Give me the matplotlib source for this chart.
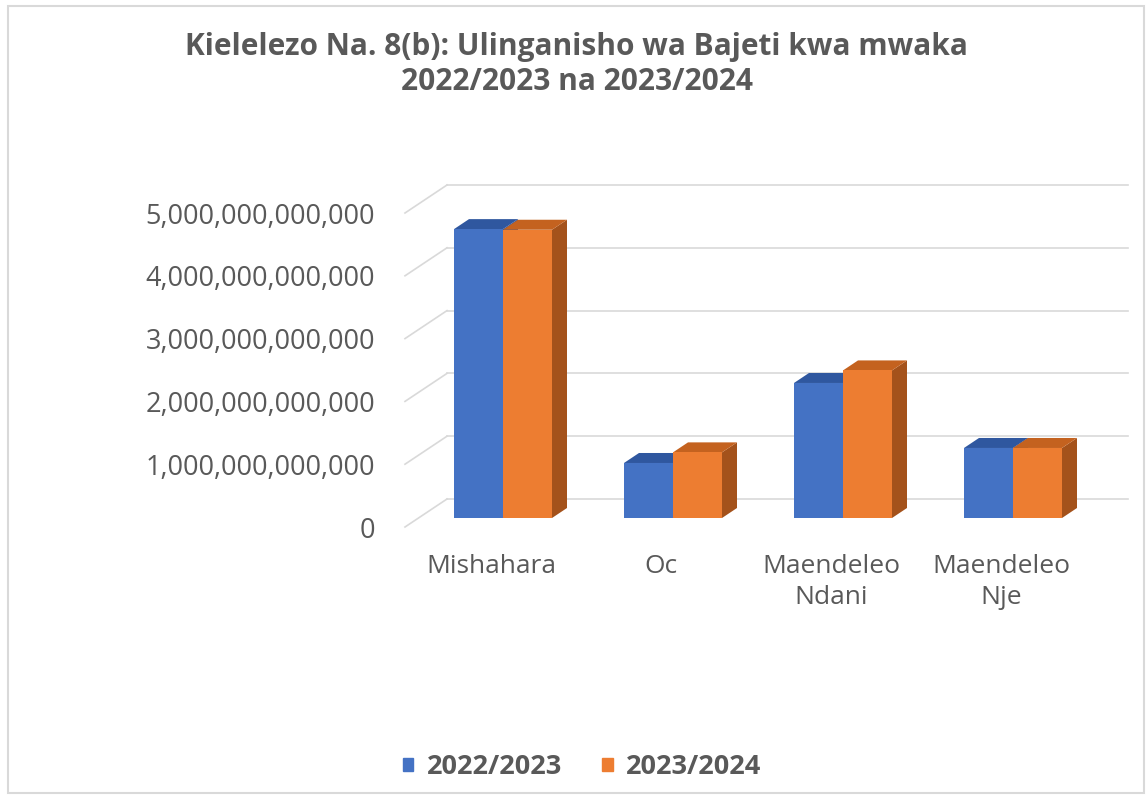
import matplotlib.pyplot as plt
from matplotlib.patches import Polygon, Rectangle, Patch
from matplotlib.ticker import FuncFormatter

categories = ['Mishahara', 'Oc', 'Maendeleo\nNdani', 'Maendeleo\nNje']
series = ['2022/2023', '2023/2024']
bajeti_2022 = [4.60e12, 0.876e12, 2.15e12, 1.115e12]
bajeti_2023 = [4.59e12, 1.045e12, 2.35e12, 1.115e12]
y_ticks = [0, 1e12, 2e12, 3e12, 4e12, 5e12]

front = ['#4472C4', '#ED7D31']
top = ['#2F579F', '#C4621F']
side = ['#2F579F', '#A4521B']
grid_c = '#D9D9D9'
text_c = '#595959'

plt.rcParams['font.family'] = ['Open Sans', 'DejaVu Sans']

W, H = 1148, 798
fig = plt.figure(figsize=(W / 100, H / 100), dpi=100)
# axes placed in pixels: x 400..1140, y 170..540 (from top)
ax = fig.add_axes([400 / W, (H - 540) / H, 740 / W, 370 / H])
px_x = 170.0            # pixels per category
px_y = 62.8 / 1e12      # pixels per unit value
ax.set_xlim((400 - 503) / px_x, (1140 - 503) / px_x)
ax.set_ylim(-(540 - 518) / px_y, (518 - 170) / px_y)

# oblique depth of one bar
dx = 15 / px_x
dy = 10 / px_y
bw = 49 / px_x

# walls: front at depth -0.9, back at depth 1.9
wall_left = (405 - 503) / px_x
wall_right = (1128 - 503) / px_x
for v in y_ticks:
    yb = v + 1.9 * dy
    ax.plot([wall_left + 2.8 * dx, wall_right], [yb, yb], color=grid_c, lw=1.2, zorder=1)
    ax.plot([wall_left, wall_left + 2.8 * dx], [v - 0.9 * dy, yb], color=grid_c, lw=1.2, zorder=1)

vals = [bajeti_2022, bajeti_2023]
for i in range(len(categories)):
    for s in range(2):
        x0 = i - bw + s * bw
        x1 = x0 + bw
        h = vals[s][i]
        ax.add_patch(Polygon([(x1, 0), (x1 + dx, dy), (x1 + dx, h + dy), (x1, h)],
                             closed=True, fc=side[s], ec='none', zorder=2))
        ax.add_patch(Polygon([(x0, h), (x1, h), (x1 + dx, h + dy), (x0 + dx, h + dy)],
                             closed=True, fc=top[s], ec='none', zorder=2))
        ax.bar(x0, h, width=bw, align='edge', color=front[s], zorder=2)

ax.set_xticks([i - 12 / px_x for i in range(len(categories))])
ax.set_xticklabels(categories, fontsize=19, color=text_c, linespacing=1.3)
ax.set_yticks([v - 0.9 * dy for v in y_ticks])
ax.yaxis.set_major_formatter(FuncFormatter(lambda p, pos: f'{y_ticks[pos]:,.0f}' if pos is not None else ''))
ax.tick_params(axis='y', length=0, pad=18, labelsize=19.5, labelcolor=text_c)
ax.tick_params(axis='x', length=0, pad=10)
for sp in ax.spines.values():
    sp.set_visible(False)
ax.patch.set_alpha(0)

fig.text(576 / W, 1 - 55 / H, 'Kielelezo Na. 8(b): Ulinganisho wa Bajeti kwa mwaka',
         ha='center', va='baseline', fontsize=21.5, fontweight='bold', color=text_c)
fig.text(577 / W, 1 - 90 / H, '2022/2023 na 2023/2024',
         ha='center', va='baseline', fontsize=21.5, fontweight='bold', color=text_c)

handles = [Patch(color=front[0]), Patch(color=front[1])]
leg = fig.legend(handles, series, loc='center', bbox_to_anchor=(582 / W, 1 - 767 / H), ncol=2,
                 frameon=False, handlelength=0.38, handleheight=0.38, handletextpad=0.5,
                 columnspacing=1.5, prop={'size': 19.5, 'weight': 'bold'})
for t in leg.get_texts():
    t.set_color(text_c)

fig.patches.append(Rectangle((8 / W, 1 - 793 / H), 1136 / W, 787 / H, transform=fig.transFigure,
                             fill=False, ec=grid_c, lw=1.5))

fig.savefig('out.png', dpi=100, facecolor='white')
